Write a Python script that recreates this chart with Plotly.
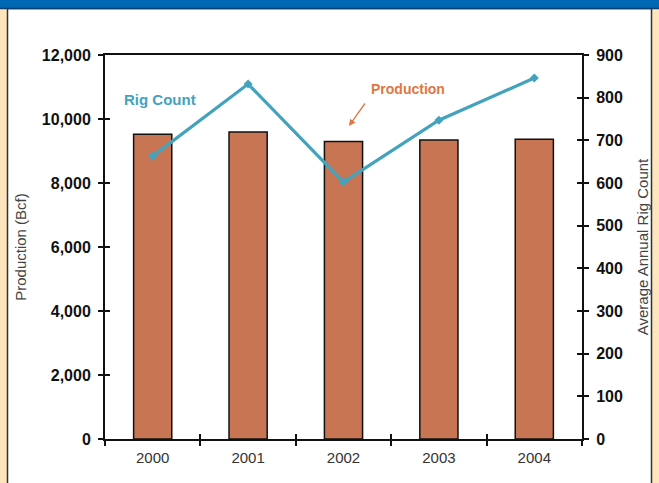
import plotly.graph_objects as go

years = ["2000", "2001", "2002", "2003", "2004"]
production_bcf = [9520, 9590, 9300, 9340, 9370]
rig_count = [663, 832, 602, 747, 846]
left_ticks = [0, 2000, 4000, 6000, 8000, 10000, 12000]
right_ticks = [0, 100, 200, 300, 400, 500, 600, 700, 800, 900]

W, H = 659, 483
ML, MR, MT, MB = 105, 77, 55, 44
PW, PH = W - ML - MR, H - MT - MB

def px(x):
    return (x - ML) / PW

def py(y):
    return (H - MB - y) / PH

fig = go.Figure()
fig.add_trace(go.Bar(x=years, y=production_bcf, name="Production",
                     marker=dict(color="#C87553", line=dict(color="#111", width=1.5)),
                     width=0.4, yaxis="y"))
fig.add_trace(go.Scatter(x=years, y=rig_count, name="Rig Count", mode="lines+markers",
                         line=dict(color="#43A3BD", width=3.2),
                         marker=dict(symbol="diamond", size=7, color="#43A3BD"),
                         yaxis="y2"))
# invisible helper traces so the inside-tick overlay axes are drawn
fig.add_trace(go.Scatter(x=years, y=[None]*5, xaxis="x2", yaxis="y3", showlegend=False, hoverinfo="skip"))
fig.add_trace(go.Scatter(x=years, y=[None]*5, yaxis="y4", showlegend=False, hoverinfo="skip"))

axfont = dict(family="Liberation Sans, Arial", size=16, color="#111", weight="bold")
tick_common = dict(ticklen=5, tickwidth=2, tickcolor="#111", showgrid=False, zeroline=False, automargin=False)
fig.update_layout(
    width=W, height=H,
    margin=dict(l=ML, r=MR, t=MT, b=MB),
    paper_bgcolor="white", plot_bgcolor="white",
    showlegend=False,
    font=dict(family="Liberation Sans, Arial"),
    xaxis=dict(type="category", categoryarray=years, range=[-0.5, 4.5],
               showline=True, linecolor="#111", linewidth=2, mirror=True,
               ticks="outside", tickson="boundaries", ticklabelstandoff=4,
               tickfont=dict(family="Liberation Sans, Arial", size=15, color="#333"),
               **tick_common),
    xaxis2=dict(type="category", categoryarray=years, range=[-0.5, 4.5], overlaying="x",
                ticks="inside", tickson="boundaries", showticklabels=False, showline=False,
                **tick_common),
    yaxis=dict(range=[0, 12000], tickvals=left_ticks, tickformat=",d",
               showline=True, linecolor="#111", linewidth=2,
               ticks="outside", ticklabelstandoff=4, tickfont=axfont,
               title=dict(text="Production (Bcf)", font=dict(size=15, color="#444"), standoff=12),
               **tick_common),
    yaxis3=dict(range=[0, 12000], tickvals=left_ticks, overlaying="y",
                ticks="inside", showticklabels=False, showline=False, **tick_common),
    yaxis2=dict(range=[0, 900], tickvals=right_ticks, overlaying="y", side="right",
                showline=True, linecolor="#111", linewidth=2,
                ticks="outside", ticklabelstandoff=4, tickfont=axfont,
                title=dict(text="Average Annual Rig Count", font=dict(size=15, color="#444"), standoff=16),
                **tick_common),
    yaxis4=dict(range=[0, 900], tickvals=right_ticks, overlaying="y", side="right",
                ticks="inside", showticklabels=False, showline=False, **tick_common),
)

shapes = [
    dict(type="rect", xref="paper", yref="paper", x0=px(-2), x1=px(W + 2), y0=py(H + 2), y1=py(-2),
         fillcolor="#FDE5BE", line=dict(width=0), layer="below"),
    dict(type="rect", xref="paper", yref="paper", x0=px(7.5), x1=px(651.5), y0=py(H + 5), y1=py(8.5),
         fillcolor="white", line=dict(color="#333", width=1.5), layer="below"),
    dict(type="rect", xref="paper", yref="paper", x0=px(-2), x1=px(W + 2), y0=py(8.5), y1=py(-2),
         fillcolor="#0068B4", line=dict(width=0), layer="below"),
    dict(type="line", xref="paper", yref="paper", x0=px(-2), x1=px(W + 2), y0=py(8.5), y1=py(8.5),
         line=dict(color="#0A3F73", width=1.5), layer="below"),
]
fig.update_layout(shapes=shapes)

fig.add_annotation(xref="paper", yref="paper", x=px(160), y=py(99), xanchor="center", yanchor="middle",
                   text="<b>Rig Count</b>", showarrow=False, font=dict(size=15, color="#43A3BD"))
fig.add_annotation(xref="paper", yref="paper", x=px(408), y=py(89), xanchor="center", yanchor="middle",
                   text="<b>Production</b>", showarrow=False, font=dict(size=14, color="#E0773F"))
fig.add_annotation(xref="paper", yref="paper", x=px(349), y=py(126), ax=17, ay=-24,
                   text="", showarrow=True,
                   arrowhead=2, arrowsize=1, arrowwidth=1.3, arrowcolor="#E0773F")

fig.write_html("out.html", config={"displayModeBar": False},
               post_script="document.body.style.margin='0';document.body.style.overflow='hidden';")
